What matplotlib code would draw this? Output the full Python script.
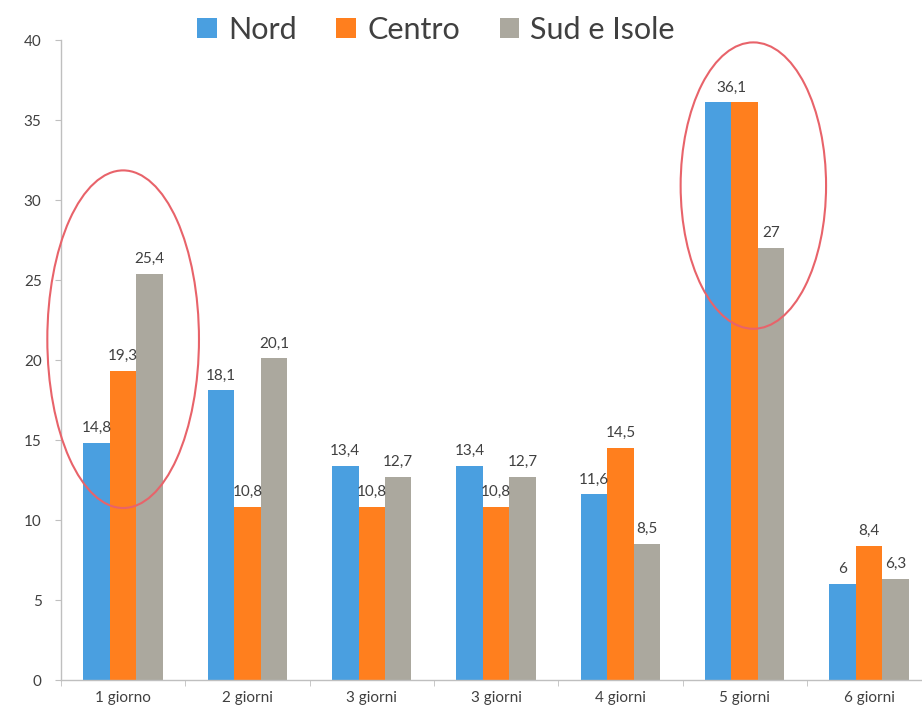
import matplotlib
matplotlib.use("Agg")
import matplotlib.pyplot as plt
from matplotlib.patches import Ellipse
import numpy as np

plt.rcParams['font.family'] = ['Lato', 'DejaVu Sans']

categories = ["1 giorno", "2 giorni", "3 giorni", "3 giorni", "4 giorni", "5 giorni", "6 giorni"]
series_names = ["Nord", "Centro", "Sud e Isole"]
nord = [14.8, 18.1, 13.4, 13.4, 11.6, 36.1, 6]
centro = [19.3, 10.8, 10.8, 10.8, 14.5, 36.1, 8.4]
sud = [25.4, 20.1, 12.7, 12.7, 8.5, 27, 6.3]
colors = ["#4A9FE0", "#FF7F1E", "#ABA89E"]

fig = plt.figure(figsize=(9.22, 7.17), dpi=100)
ax = fig.add_axes([61/922, 37/717, 7*124.3/922, 640/717])

x = np.arange(len(categories))
w = 0.213
all_vals = [nord, centro, sud]
for i, (vals, c, name) in enumerate(zip(all_vals, colors, series_names)):
    pos = x + (i - 1) * w
    ax.bar(pos, vals, width=w, color=c, label=name, zorder=2)
    for j, (p, v) in enumerate(zip(pos, vals)):
        txt = f"{v:g}".replace(".", ",")
        # equal adjacent Nord/Centro values share one centred label
        if i == 1 and nord[j] == centro[j]:
            continue
        if i == 0 and nord[j] == centro[j]:
            p = p + w / 2
        ax.text(p, v + 0.5, txt, ha="center", va="bottom", fontsize=11, color="#404040", zorder=3)

ax.set_xlim(-0.5, 6.5)
ax.set_ylim(0, 40)
ax.set_yticks(range(0, 41, 5))
ax.set_xticks(x)
ax.set_xticklabels(categories)
ax.set_xticks(np.arange(-0.5, 7, 1), minor=True)
ax.tick_params(axis="x", which="major", length=0, labelsize=11, labelcolor="#404040", pad=8)
ax.tick_params(axis="x", which="minor", length=4, color="#BFBFBF", direction="out")
ax.tick_params(axis="y", length=4, color="#BFBFBF", labelsize=11, labelcolor="#404040", pad=10)

for s in ["top", "right"]:
    ax.spines[s].set_visible(False)
for s in ["left", "bottom"]:
    ax.spines[s].set_color("#BFBFBF")
    ax.spines[s].set_linewidth(1)

# red ellipses highlighting groups
e1 = Ellipse((0.0, 21.3), 1.22, 21.1, fill=False, edgecolor="#E8636A", linewidth=1.5, zorder=4, clip_on=False)
e2 = Ellipse((5.07, 30.9), 1.17, 17.9, fill=False, edgecolor="#E8636A", linewidth=1.5, zorder=4, clip_on=False)
ax.add_patch(e1)
ax.add_patch(e2)

leg = fig.legend(loc="center", bbox_to_anchor=(436/922, 1 - 30/717), ncol=3, frameon=False,
                 fontsize=22, handlelength=0.65, handleheight=0.65, handletextpad=0.35, columnspacing=1.3)
for t in leg.get_texts():
    t.set_color("#404040")

fig.savefig("out.png", dpi=100)
